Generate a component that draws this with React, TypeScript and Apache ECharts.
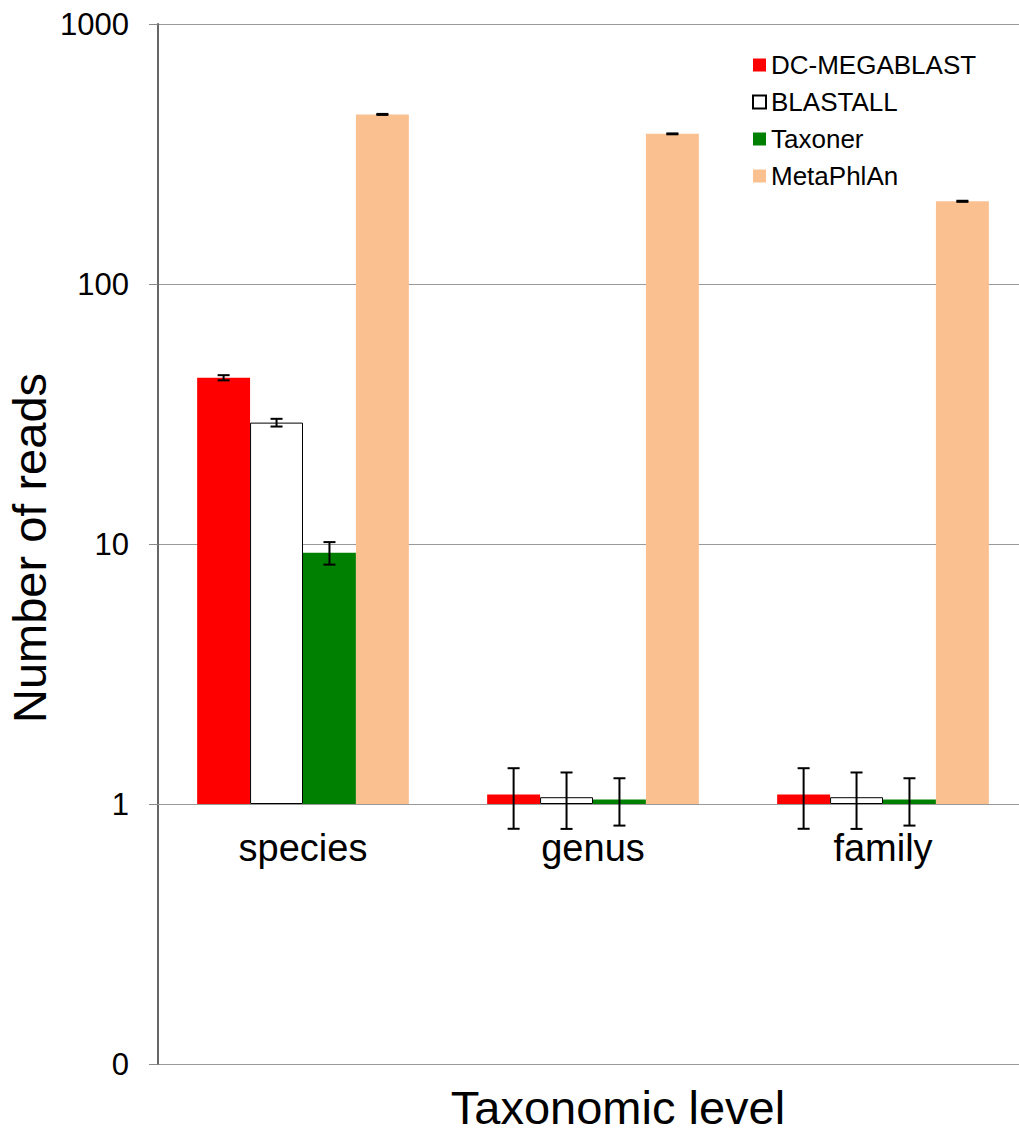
import React, { useEffect, useRef } from "react";
import * as echarts from "echarts";

const categories = ["species", "genus", "family"];
const seriesNames = ["DC-MEGABLAST", "BLASTALL", "Taxoner", "MetaPhlAn"];
const dcMegablast = [43.6, 1.088, 1.088];
const blastall = [29.3, 1.062, 1.062];
const taxoner = [9.25, 1.041, 1.041];
const metaphlan = [449, 378, 208];
const dcMegablastErr = [1.0, 0.285, 0.285];
const blastallErr = [1.0, 0.26, 0.26];
const taxonerErr = [0.92, 0.215, 0.215];
const metaphlanErr = [2, 1.5, 1];
const yTicks = [0.1, 1, 10, 100, 1000];

const FONT = "'Liberation Sans', Arial, sans-serif";
const CAT_GAP = 0.27;

export default function App() {
  const ref = useRef<HTMLDivElement>(null);
  useEffect(() => {
    if (!ref.current) return;
    const chart = echarts.init(ref.current, null, { renderer: "svg" });
    const values = [dcMegablast, blastall, taxoner, metaphlan];
    const errs = [dcMegablastErr, blastallErr, taxonerErr, metaphlanErr];
    const styles = [
      { color: "#FF0000" },
      { color: "#FFFFFF", borderColor: "#000000", borderWidth: 1 },
      { color: "#008000" },
      { color: "#FAC090" },
    ];
    const errData: number[][] = [];
    values.forEach((arr, s) =>
      arr.forEach((v, c) => errData.push([c, s, v, errs[s][c]]))
    );
    const bars = seriesNames.map((name, i) => ({
      name,
      type: "bar",
      data: values[i],
      barGap: "0%",
      barCategoryGap: CAT_GAP * 100 + "%",
      itemStyle: styles[i],
      emphasis: { disabled: true },
    }));
    chart.setOption({
      animation: false,
      textStyle: { fontFamily: FONT },
      grid: {
        left: 158,
        width: 870,
        top: 24,
        height: 1040,
        outerBoundsMode: "none",
        containLabel: false,
      },
      legend: {
        data: seriesNames,
        orient: "vertical",
        left: 752,
        top: 52,
        padding: 0,
        itemWidth: 13,
        itemHeight: 13,
        itemGap: 11,
        icon: "rect",
        textStyle: { fontSize: 26, color: "#000", fontFamily: FONT, lineHeight: 26 },
      },
      xAxis: {
        type: "category",
        data: categories,
        offset: -260,
        axisLine: { onZero: false, lineStyle: { color: "#999", width: 1 } },
        axisTick: { length: 9, lineStyle: { color: "#777" } },
        axisLabel: { fontSize: 38, color: "#000", margin: 25, fontFamily: FONT },
      },
      yAxis: {
        type: "log",
        logBase: 10,
        min: yTicks[0],
        max: yTicks[yTicks.length - 1],
        axisLine: { show: true, lineStyle: { color: "#666", width: 2 } },
        axisTick: { show: true, length: 9, lineStyle: { color: "#888" } },
        splitLine: { show: true, lineStyle: { color: "#999", width: 1 } },
        axisLabel: {
          fontSize: 31,
          color: "#000",
          margin: 29,
          fontFamily: FONT,
          formatter: (v: number) => (v < 1 ? "0" : String(Math.round(v))),
        },
      },
      graphic: [
        {
          type: "text",
          x: 29,
          y: 548,
          rotation: Math.PI / 2,
          style: {
            text: "Number of reads",
            font: `47px ${FONT}`,
            fill: "#000",
            textAlign: "center",
            textVerticalAlign: "middle",
          },
        },
        {
          type: "text",
          x: 618,
          y: 1107,
          style: {
            text: "Taxonomic level",
            font: `47px ${FONT}`,
            fill: "#000",
            textAlign: "center",
            textVerticalAlign: "middle",
          },
        },
      ],
      series: [
        ...bars,
        {
          type: "custom",
          name: "errors",
          z: 10,
          encode: { x: 0, y: 2 },
          data: errData,
          renderItem: (params: any, api: any) => {
            const c = api.value(0);
            const s = api.value(1);
            const v = api.value(2);
            const e = api.value(3);
            const p0 = api.coord([0, 1]);
            const p1 = api.coord([1, 1]);
            const band = p1[0] - p0[0];
            const bw = (band * (1 - CAT_GAP)) / 4;
            const cx = api.coord([c, v])[0] + (s - 1.5) * bw;
            const yt = api.coord([c, v + e])[1];
            const yb = api.coord([c, v - e])[1];
            const st = { stroke: "#000", lineWidth: 2 };
            return {
              type: "group",
              children: [
                { type: "line", shape: { x1: cx, y1: yt, x2: cx, y2: yb }, style: st },
                { type: "line", shape: { x1: cx - 6, y1: yt, x2: cx + 6, y2: yt }, style: st },
                { type: "line", shape: { x1: cx - 6, y1: yb, x2: cx + 6, y2: yb }, style: st },
              ],
            };
          },
        },
      ],
    });
    return () => chart.dispose();
  }, []);
  return (
    <div
      ref={ref}
      style={{ position: "fixed", left: 0, top: 0, width: 1019, height: 1134, background: "#fff" }}
    />
  );
}
